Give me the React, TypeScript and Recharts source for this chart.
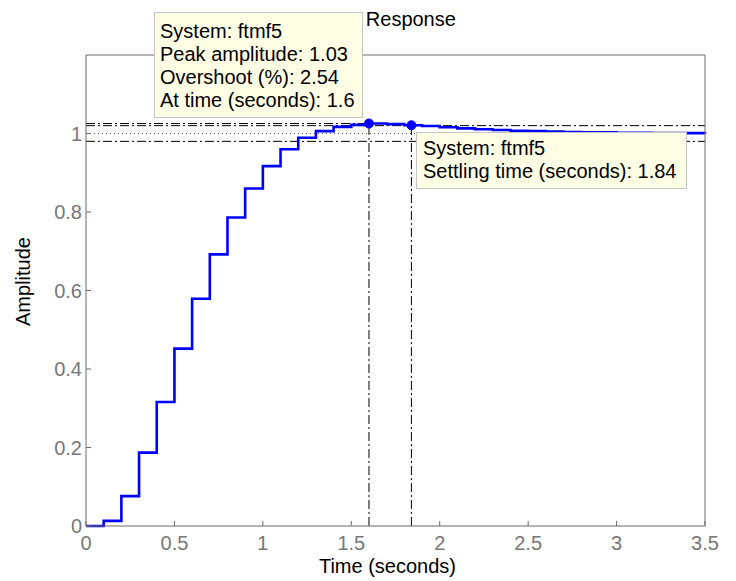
import { LineChart, Line, XAxis, YAxis, ReferenceLine, ReferenceDot, Label } from 'recharts';

// discrete step response, sample time 0.1 s
const time = [
  0, 0.1, 0.2, 0.3, 0.4, 0.5, 0.6, 0.7, 0.8, 0.9, 1.0, 1.1, 1.2, 1.3, 1.4, 1.5, 1.6, 1.7,
  1.8, 1.9, 2.0, 2.1, 2.2, 2.3, 2.4, 2.5, 2.6, 2.7, 2.8, 2.9, 3.0, 3.1, 3.2, 3.3, 3.4, 3.5,
];
const amplitude = [
  0, 0.013, 0.076, 0.187, 0.316, 0.452, 0.579, 0.692, 0.786, 0.86, 0.917, 0.96, 0.989, 1.006,
  1.017, 1.022, 1.0254, 1.024, 1.021, 1.019, 1.016, 1.013, 1.011, 1.009, 1.007, 1.006, 1.005,
  1.004, 1.003, 1.003, 1.002, 1.002, 1.001, 1.001, 1.001, 1.0,
];
const xTicks = [0, 0.5, 1, 1.5, 2, 2.5, 3, 3.5];
const yTicks = [0, 0.2, 0.4, 0.6, 0.8, 1];

// stepinfo results
const peakTime = 1.6;
const peakAmplitude = 1.0254;
const settlingTime = 1.84;
const settlingAmplitude = 1.021;
const finalValue = 1;
const settleBand = [0.98, 1.02];

const peakTip = ['System: ftmf5', 'Peak amplitude: 1.03', 'Overshoot (%): 2.54', 'At time (seconds): 1.6'];
const settleTip = ['System: ftmf5', 'Settling time (seconds): 1.84'];

const FONT = '"Liberation Sans", Arial, Helvetica, sans-serif';
const AXIS = '#6b6b6b';
const DASHDOT = '9 3 2 3';

const data = time.map((t, i) => ({ t, y: amplitude[i] }));

const TitleLabel = (props: any) => {
  const { viewBox } = props;
  return (
    <text x={viewBox.x + viewBox.width / 2 - 8} y={viewBox.y - 28} textAnchor="middle" fontSize={20} fill="#000" fontFamily={FONT}>
      Step Response
    </text>
  );
};

const XLabel = (props: any) => {
  const { viewBox } = props;
  return (
    <text x={viewBox.x + viewBox.width / 2 - 8} y={viewBox.y + 47} textAnchor="middle" fontSize={20} fill="#000" fontFamily={FONT}>
      Time (seconds)
    </text>
  );
};

const YLabel = (props: any) => {
  const { viewBox } = props;
  const cx = 30;
  const cy = viewBox.y + viewBox.height / 2 - 9;
  return (
    <text x={cx} y={cy} transform={`rotate(-90, ${cx}, ${cy})`} textAnchor="middle" fontSize={20} fill="#000" fontFamily={FONT}>
      Amplitude
    </text>
  );
};

const tipStyle = {
  position: 'absolute' as const,
  boxSizing: 'border-box' as const,
  background: '#FFFFE6',
  border: '1px solid #c4c4c4',
  fontFamily: FONT,
  fontSize: 20,
  lineHeight: '22.9px',
  color: '#000',
  whiteSpace: 'nowrap' as const,
};

export default function App() {
  return (
    <div style={{ position: 'absolute', left: 0, top: 0, width: 736, height: 581, background: '#fff' }}>
      <LineChart width={736} height={581} data={data} margin={{ top: 54, right: 30, bottom: 0, left: 0 }}>
        <XAxis
          dataKey="t"
          type="number"
          domain={[0, 3.5]}
          ticks={xTicks}
          interval={0}
          height={55}
          stroke={AXIS}
          tickSize={-5}
          tickMargin={15}
          tick={{ fill: '#777', fontSize: 20, fontFamily: FONT }}
        >
          <Label content={<XLabel />} />
        </XAxis>
        <XAxis
          xAxisId="top"
          orientation="top"
          dataKey="t"
          type="number"
          domain={[0, 3.5]}
          ticks={xTicks}
          interval={0}
          height={1}
          stroke={AXIS}
          tickSize={-5}
          tick={false}
        >
          <Label content={<TitleLabel />} />
        </XAxis>
        <YAxis
          type="number"
          domain={[0, 1.2]}
          ticks={yTicks}
          interval={0}
          width={86}
          stroke={AXIS}
          tickSize={-5}
          tickMargin={9}
          tick={{ fill: '#777', fontSize: 20, fontFamily: FONT }}
        >
          <Label content={<YLabel />} />
        </YAxis>
        <YAxis
          yAxisId="right"
          orientation="right"
          type="number"
          domain={[0, 1.2]}
          ticks={yTicks}
          interval={0}
          width={1}
          stroke={AXIS}
          tickSize={-5}
          tick={false}
        />

        <ReferenceLine y={finalValue} stroke="#555" strokeDasharray="1 3" />
        <ReferenceLine y={settleBand[0]} stroke="#000" strokeDasharray={DASHDOT} />
        <ReferenceLine y={settleBand[1]} stroke="#000" strokeDasharray={DASHDOT} />
        <ReferenceLine segment={[{ x: 0, y: peakAmplitude }, { x: peakTime, y: peakAmplitude }]} stroke="#000" strokeDasharray={DASHDOT} />
        <ReferenceLine segment={[{ x: peakTime, y: 0 }, { x: peakTime, y: peakAmplitude }]} stroke="#000" strokeDasharray={DASHDOT} />
        <ReferenceLine segment={[{ x: settlingTime, y: 0 }, { x: settlingTime, y: settlingAmplitude }]} stroke="#000" strokeDasharray={DASHDOT} />

        <Line type="stepAfter" dataKey="y" stroke="#0000ff" strokeWidth={2.6} dot={false} isAnimationActive={false} />

        <ReferenceDot x={peakTime} y={peakAmplitude} r={4.5} fill="#0000ff" stroke="#0000ff" />
        <ReferenceDot x={settlingTime} y={settlingAmplitude} r={4.5} fill="#0000ff" stroke="#0000ff" />
      </LineChart>

      <div style={{ ...tipStyle, left: 154, top: 12, width: 209, height: 106, padding: '7px 5px 0 5px' }}>
        {peakTip.map((s) => (
          <div key={s}>{s}</div>
        ))}
      </div>
      <div style={{ ...tipStyle, left: 416, top: 132, width: 271, height: 57, padding: '4px 5px 0 6px' }}>
        {settleTip.map((s) => (
          <div key={s}>{s}</div>
        ))}
      </div>
    </div>
  );
}
